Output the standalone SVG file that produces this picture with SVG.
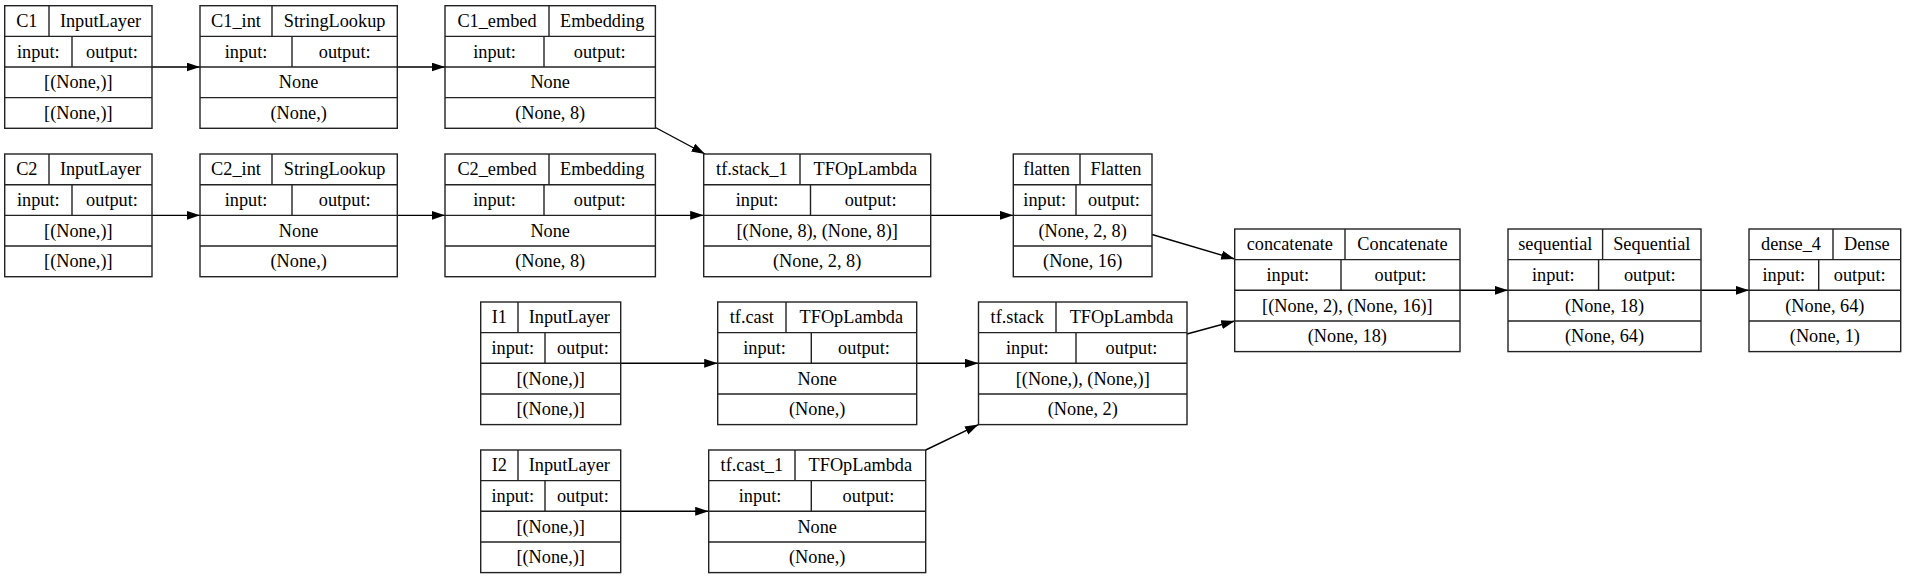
<svg xmlns="http://www.w3.org/2000/svg" width="1907" height="579" viewBox="0 0 1907 579">
<style>
rect.b{fill:#fff;stroke:#222;stroke-width:1.4}
line.d{stroke:#222;stroke-width:1.4}
text{font-family:'Liberation Serif',serif;font-size:18.3px;fill:#000;text-anchor:middle}
#edges path{fill:none;stroke:#000;stroke-width:1.4;marker-end:url(#ah)}
</style>
<defs>
<marker id="ah" markerUnits="userSpaceOnUse" markerWidth="15" markerHeight="10" refX="13.5" refY="4.5" orient="auto">
<path d="M0,0 L13.5,4.5 L0,9 z" fill="#000"/>
</marker>
</defs>
<rect width="1907" height="579" fill="#fff"/>
<g id="edges">
<path d="M152,67 L200,67"/>
<path d="M397.3,67 L445,67"/>
<path d="M655.4,127.5 L705,154"/>
<path d="M152,215.35 L200,215.35"/>
<path d="M397.3,215.35 L445,215.35"/>
<path d="M655.4,215.35 L703.7,215.35"/>
<path d="M930.7,215.35 L1013.3,215.35"/>
<path d="M1152,234.5 L1234.7,259"/>
<path d="M1187,334 L1234.7,321"/>
<path d="M620.7,363.3 L717.7,363.3"/>
<path d="M916.7,363.3 L978.5,363.3"/>
<path d="M620.7,511.3 L708.7,511.3"/>
<path d="M925.7,450 L978.5,424.6"/>
<path d="M1460,290.3 L1508,290.3"/>
<path d="M1701,290.3 L1749,290.3"/>
</g>
<g id="C1">
<rect class="b" x="4.7" y="5.7" width="147.3" height="122.6"/>
<line class="d" x1="4.7" y1="36.35" x2="152" y2="36.35"/><line class="d" x1="4.7" y1="67" x2="152" y2="67"/><line class="d" x1="4.7" y1="97.65" x2="152" y2="97.65"/>
<line class="d" x1="49" y1="5.7" x2="49" y2="36.35"/><line class="d" x1="72" y1="36.35" x2="72" y2="67"/>
<text x="26.85" y="27">C1</text><text x="100.5" y="27">InputLayer</text>
<text x="38.35" y="57.7">input:</text><text x="112" y="57.7">output:</text>
<text x="78.35" y="88.3">[(None,)]</text><text x="78.35" y="119">[(None,)]</text>
</g>
<g id="C1_int">
<rect class="b" x="200" y="5.7" width="197.3" height="122.6"/>
<line class="d" x1="200" y1="36.35" x2="397.3" y2="36.35"/><line class="d" x1="200" y1="67" x2="397.3" y2="67"/><line class="d" x1="200" y1="97.65" x2="397.3" y2="97.65"/>
<line class="d" x1="272" y1="5.7" x2="272" y2="36.35"/><line class="d" x1="292" y1="36.35" x2="292" y2="67"/>
<text x="236" y="27">C1_int</text><text x="334.65" y="27">StringLookup</text>
<text x="246" y="57.7">input:</text><text x="344.65" y="57.7">output:</text>
<text x="298.65" y="88.3">None</text><text x="298.65" y="119">(None,)</text>
</g>
<g id="C1_embed">
<rect class="b" x="445" y="5.7" width="210.4" height="122.6"/>
<line class="d" x1="445" y1="36.35" x2="655.4" y2="36.35"/><line class="d" x1="445" y1="67" x2="655.4" y2="67"/><line class="d" x1="445" y1="97.65" x2="655.4" y2="97.65"/>
<line class="d" x1="549" y1="5.7" x2="549" y2="36.35"/><line class="d" x1="544" y1="36.35" x2="544" y2="67"/>
<text x="497" y="27">C1_embed</text><text x="602.2" y="27">Embedding</text>
<text x="494.5" y="57.7">input:</text><text x="599.7" y="57.7">output:</text>
<text x="550.2" y="88.3">None</text><text x="550.2" y="119">(None, 8)</text>
</g>
<g id="C2">
<rect class="b" x="4.7" y="154" width="147.3" height="122.7"/>
<line class="d" x1="4.7" y1="184.7" x2="152" y2="184.7"/><line class="d" x1="4.7" y1="215.35" x2="152" y2="215.35"/><line class="d" x1="4.7" y1="246" x2="152" y2="246"/>
<line class="d" x1="49" y1="154" x2="49" y2="184.7"/><line class="d" x1="72" y1="184.7" x2="72" y2="215.35"/>
<text x="26.85" y="175.3">C2</text><text x="100.5" y="175.3">InputLayer</text>
<text x="38.35" y="206">input:</text><text x="112" y="206">output:</text>
<text x="78.35" y="236.7">[(None,)]</text><text x="78.35" y="267.4">[(None,)]</text>
</g>
<g id="C2_int">
<rect class="b" x="200" y="154" width="197.3" height="122.7"/>
<line class="d" x1="200" y1="184.7" x2="397.3" y2="184.7"/><line class="d" x1="200" y1="215.35" x2="397.3" y2="215.35"/><line class="d" x1="200" y1="246" x2="397.3" y2="246"/>
<line class="d" x1="272" y1="154" x2="272" y2="184.7"/><line class="d" x1="292" y1="184.7" x2="292" y2="215.35"/>
<text x="236" y="175.3">C2_int</text><text x="334.65" y="175.3">StringLookup</text>
<text x="246" y="206">input:</text><text x="344.65" y="206">output:</text>
<text x="298.65" y="236.7">None</text><text x="298.65" y="267.4">(None,)</text>
</g>
<g id="C2_embed">
<rect class="b" x="445" y="154" width="210.4" height="122.7"/>
<line class="d" x1="445" y1="184.7" x2="655.4" y2="184.7"/><line class="d" x1="445" y1="215.35" x2="655.4" y2="215.35"/><line class="d" x1="445" y1="246" x2="655.4" y2="246"/>
<line class="d" x1="549" y1="154" x2="549" y2="184.7"/><line class="d" x1="544" y1="184.7" x2="544" y2="215.35"/>
<text x="497" y="175.3">C2_embed</text><text x="602.2" y="175.3">Embedding</text>
<text x="494.5" y="206">input:</text><text x="599.7" y="206">output:</text>
<text x="550.2" y="236.7">None</text><text x="550.2" y="267.4">(None, 8)</text>
</g>
<g id="tf_stack_1">
<rect class="b" x="703.7" y="154" width="227" height="122.7"/>
<line class="d" x1="703.7" y1="184.7" x2="930.7" y2="184.7"/><line class="d" x1="703.7" y1="215.35" x2="930.7" y2="215.35"/><line class="d" x1="703.7" y1="246" x2="930.7" y2="246"/>
<line class="d" x1="800" y1="154" x2="800" y2="184.7"/><line class="d" x1="810.5" y1="184.7" x2="810.5" y2="215.35"/>
<text x="751.85" y="175.3">tf.stack_1</text><text x="865.35" y="175.3">TFOpLambda</text>
<text x="757.1" y="206">input:</text><text x="870.6" y="206">output:</text>
<text x="817.2" y="236.7">[(None, 8), (None, 8)]</text><text x="817.2" y="267.4">(None, 2, 8)</text>
</g>
<g id="flatten">
<rect class="b" x="1013.3" y="154" width="138.7" height="122.7"/>
<line class="d" x1="1013.3" y1="184.7" x2="1152" y2="184.7"/><line class="d" x1="1013.3" y1="215.35" x2="1152" y2="215.35"/><line class="d" x1="1013.3" y1="246" x2="1152" y2="246"/>
<line class="d" x1="1080" y1="154" x2="1080" y2="184.7"/><line class="d" x1="1076" y1="184.7" x2="1076" y2="215.35"/>
<text x="1046.65" y="175.3">flatten</text><text x="1116" y="175.3">Flatten</text>
<text x="1044.65" y="206">input:</text><text x="1114" y="206">output:</text>
<text x="1082.65" y="236.7">(None, 2, 8)</text><text x="1082.65" y="267.4">(None, 16)</text>
</g>
<g id="concatenate">
<rect class="b" x="1234.7" y="229" width="225.3" height="122.6"/>
<line class="d" x1="1234.7" y1="259.65" x2="1460" y2="259.65"/><line class="d" x1="1234.7" y1="290.3" x2="1460" y2="290.3"/><line class="d" x1="1234.7" y1="320.95" x2="1460" y2="320.95"/>
<line class="d" x1="1345" y1="229" x2="1345" y2="259.65"/><line class="d" x1="1341" y1="259.65" x2="1341" y2="290.3"/>
<text x="1289.85" y="250.3">concatenate</text><text x="1402.5" y="250.3">Concatenate</text>
<text x="1287.85" y="281">input:</text><text x="1400.5" y="281">output:</text>
<text x="1347.35" y="311.6">[(None, 2), (None, 16)]</text><text x="1347.35" y="342.3">(None, 18)</text>
</g>
<g id="sequential">
<rect class="b" x="1508" y="229" width="193" height="122.6"/>
<line class="d" x1="1508" y1="259.65" x2="1701" y2="259.65"/><line class="d" x1="1508" y1="290.3" x2="1701" y2="290.3"/><line class="d" x1="1508" y1="320.95" x2="1701" y2="320.95"/>
<line class="d" x1="1602.6" y1="229" x2="1602.6" y2="259.65"/><line class="d" x1="1598.6" y1="259.65" x2="1598.6" y2="290.3"/>
<text x="1555.3" y="250.3">sequential</text><text x="1651.8" y="250.3">Sequential</text>
<text x="1553.3" y="281">input:</text><text x="1649.8" y="281">output:</text>
<text x="1604.5" y="311.6">(None, 18)</text><text x="1604.5" y="342.3">(None, 64)</text>
</g>
<g id="dense_4">
<rect class="b" x="1749" y="229" width="151.7" height="122.6"/>
<line class="d" x1="1749" y1="259.65" x2="1900.7" y2="259.65"/><line class="d" x1="1749" y1="290.3" x2="1900.7" y2="290.3"/><line class="d" x1="1749" y1="320.95" x2="1900.7" y2="320.95"/>
<line class="d" x1="1833" y1="229" x2="1833" y2="259.65"/><line class="d" x1="1818.7" y1="259.65" x2="1818.7" y2="290.3"/>
<text x="1791" y="250.3">dense_4</text><text x="1866.85" y="250.3">Dense</text>
<text x="1783.85" y="281">input:</text><text x="1859.7" y="281">output:</text>
<text x="1824.85" y="311.6">(None, 64)</text><text x="1824.85" y="342.3">(None, 1)</text>
</g>
<g id="I1">
<rect class="b" x="480.7" y="302" width="140" height="122.6"/>
<line class="d" x1="480.7" y1="332.65" x2="620.7" y2="332.65"/><line class="d" x1="480.7" y1="363.3" x2="620.7" y2="363.3"/><line class="d" x1="480.7" y1="393.95" x2="620.7" y2="393.95"/>
<line class="d" x1="518" y1="302" x2="518" y2="332.65"/><line class="d" x1="545" y1="332.65" x2="545" y2="363.3"/>
<text x="499.35" y="323.3">I1</text><text x="569.35" y="323.3">InputLayer</text>
<text x="512.85" y="354">input:</text><text x="582.85" y="354">output:</text>
<text x="550.7" y="384.6">[(None,)]</text><text x="550.7" y="415.3">[(None,)]</text>
</g>
<g id="tf_cast">
<rect class="b" x="717.7" y="302" width="199" height="122.6"/>
<line class="d" x1="717.7" y1="332.65" x2="916.7" y2="332.65"/><line class="d" x1="717.7" y1="363.3" x2="916.7" y2="363.3"/><line class="d" x1="717.7" y1="393.95" x2="916.7" y2="393.95"/>
<line class="d" x1="786" y1="302" x2="786" y2="332.65"/><line class="d" x1="811.3" y1="332.65" x2="811.3" y2="363.3"/>
<text x="751.85" y="323.3">tf.cast</text><text x="851.35" y="323.3">TFOpLambda</text>
<text x="764.5" y="354">input:</text><text x="864" y="354">output:</text>
<text x="817.2" y="384.6">None</text><text x="817.2" y="415.3">(None,)</text>
</g>
<g id="tf_stack">
<rect class="b" x="978.5" y="302" width="208.5" height="122.6"/>
<line class="d" x1="978.5" y1="332.65" x2="1187" y2="332.65"/><line class="d" x1="978.5" y1="363.3" x2="1187" y2="363.3"/><line class="d" x1="978.5" y1="393.95" x2="1187" y2="393.95"/>
<line class="d" x1="1056" y1="302" x2="1056" y2="332.65"/><line class="d" x1="1076" y1="332.65" x2="1076" y2="363.3"/>
<text x="1017.25" y="323.3">tf.stack</text><text x="1121.5" y="323.3">TFOpLambda</text>
<text x="1027.25" y="354">input:</text><text x="1131.5" y="354">output:</text>
<text x="1082.75" y="384.6">[(None,), (None,)]</text><text x="1082.75" y="415.3">(None, 2)</text>
</g>
<g id="I2">
<rect class="b" x="480.7" y="450" width="140" height="122.6"/>
<line class="d" x1="480.7" y1="480.65" x2="620.7" y2="480.65"/><line class="d" x1="480.7" y1="511.3" x2="620.7" y2="511.3"/><line class="d" x1="480.7" y1="541.95" x2="620.7" y2="541.95"/>
<line class="d" x1="518" y1="450" x2="518" y2="480.65"/><line class="d" x1="545" y1="480.65" x2="545" y2="511.3"/>
<text x="499.35" y="471.3">I2</text><text x="569.35" y="471.3">InputLayer</text>
<text x="512.85" y="502">input:</text><text x="582.85" y="502">output:</text>
<text x="550.7" y="532.6">[(None,)]</text><text x="550.7" y="563.3">[(None,)]</text>
</g>
<g id="tf_cast_1">
<rect class="b" x="708.7" y="450" width="217" height="122.6"/>
<line class="d" x1="708.7" y1="480.65" x2="925.7" y2="480.65"/><line class="d" x1="708.7" y1="511.3" x2="925.7" y2="511.3"/><line class="d" x1="708.7" y1="541.95" x2="925.7" y2="541.95"/>
<line class="d" x1="795" y1="450" x2="795" y2="480.65"/><line class="d" x1="811.3" y1="480.65" x2="811.3" y2="511.3"/>
<text x="751.85" y="471.3">tf.cast_1</text><text x="860.35" y="471.3">TFOpLambda</text>
<text x="760" y="502">input:</text><text x="868.5" y="502">output:</text>
<text x="817.2" y="532.6">None</text><text x="817.2" y="563.3">(None,)</text>
</g>
</svg>
